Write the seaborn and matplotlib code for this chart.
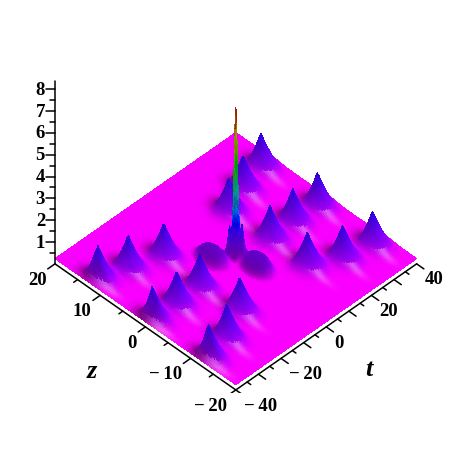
import numpy as np
import seaborn as sns
import matplotlib.pyplot as plt
from mpl_toolkits.mplot3d import proj3d

# Peak centres and heights are read off the picture. The sheet between them
# is only an approximation of the original surface, built from these lists.
peak_t = [-35.8, -25.8, -14.1, -36.8, -26.6, -16, -36.4, -26, -14.5,
          35.9, 24.9, 14.7, 35.9, 25.4, 14.9, 35.9, 24.8, 14.8]
peak_z = [12.6, 10.9, 8.9, 0.1, -0.2, 0, -12.2, -11, -8.1,
          12.4, 10.9, 8.9, -0.1, 0.1, -0.1, -12.3, -11.2, -8.4]
peak_h = [1.4] * 18
center_t = [0, -1.4, 1.4]
center_z = [0, 0.7, -0.7]
center_h = [6.8, 1.4, 1.4]
ridge_t = [-5.6, 1.7]
ridge_z = [2.5, -4]
ridge_h = [0.55, 0.6]
floor_h = 0.24
z_top = 8.4

z_ticks = [20, 10, 0, -10, -20]
t_ticks = [40, 20, 0, -20, -40]
h_ticks = [1, 2, 3, 4, 5, 6, 7, 8]

# height above the sheet -> place in the hue table
hue_height = [0, 0.35, 1.4, 4.3, 6.9]
hue_place = [0, 0.08, 0.165, 0.6, 1]

sns.set_theme(style='white')
plt.rcParams['font.family'] = ['Liberation Serif', 'DejaVu Serif']
hue_table = np.array(sns.hls_palette(300, h=0, l=0.5, s=1)[:250][::-1])

t = np.unique(np.concatenate([np.linspace(-40, 40, 231), np.linspace(-3, 3, 61)]))
z = np.unique(np.concatenate([np.linspace(-20, 20, 201), np.linspace(-2, 2, 61)]))
T, Z = np.meshgrid(t, z)

H = np.full(T.shape, floor_h)
glow = np.zeros(T.shape)
shadow = np.zeros(T.shape)
for p_t, p_z, p_h in zip(peak_t, peak_z, peak_h):
    # skirts run further towards the viewer than away from it
    w_t = np.where(T > p_t, 2.5, 4.0)
    w_z = np.where(Z > p_z, 1.25, 2.7)
    rho = np.hypot((T - p_t) / w_t, (Z - p_z) / w_z)
    H += p_h * np.exp(-rho - 0.25 * rho ** 3)
    glow += np.exp(-((T - p_t + 2.6) / 1.3) ** 2 - ((Z - p_z + 3.4) / 2.6) ** 2)
    shadow += np.exp(-((T - p_t + 1.4) / 3) ** 2 - ((Z - p_z - 1.3) / 1.8) ** 2)
for p_t, p_z, p_h in zip(center_t[1:], center_z[1:], center_h[1:]):
    H += p_h * np.exp(-np.hypot((T - p_t) / 0.8, (Z - p_z) / 0.4) ** 1.3)
H += center_h[0] / np.cosh(np.hypot((T - center_t[0]) / 0.75, (Z - center_z[0]) / 0.35)) ** 2
for p_t, p_z, p_h in zip(ridge_t, ridge_z, ridge_h):
    bump = np.exp(-(((T - p_t) / 3.6) ** 2 + ((Z - p_z) / 2.8) ** 2) ** 2)
    H += p_h * bump
    shadow += 0.9 * bump

# the front edge stays straight in the picture
H = floor_h + (H - floor_h) * np.clip((T + 40) / 3, 0, 1)

dH_dt = np.gradient(H, t, axis=1)
frac = np.interp(H - floor_h, hue_height, hue_place)
colors = hue_table[(frac * 249).astype(int)]
dark = np.clip(dH_dt * 1.2 + 0.45 * shadow, 0, 0.5) * np.clip(1 - frac / 0.165 * 0.75, 0.25, 1)
dark = np.where(frac > 0.3, 0.4, dark)[..., None]
white = np.clip(glow * 0.35, 0, 0.45)[..., None] * (frac[..., None] < 0.05)
colors = colors * (1 - dark)
colors = colors + (1 - colors) * white

fig = plt.figure(figsize=(4.58, 4.52), dpi=100)
size = 430
ax = fig.add_axes([(230 - size / 2) / 458, (452 - 179 - size / 2) / 452, size / 458, size / 452],
                  projection='3d')
ax.set_proj_type('ortho')
ax.view_init(elev=44.2, azim=-135)
ax.set_box_aspect((1, 1, 1), zoom=1)
ax.set_xlim(-40, 40)
ax.set_ylim(-20, 20)
ax.set_zlim(0, z_top)
ax.set_xticks([])
ax.set_yticks([])
ax.set_zticks([])
ax.set_axis_off()
ax.computed_zorder = False
ax.patch.set_alpha(0)

ax.plot_surface(T, Z, H, facecolors=colors, rstride=1, cstride=1, shade=False,
                linewidth=0, antialiased=False, zorder=1)

line = dict(color='black', lw=1.1, zorder=3)
label = dict(fontsize=13.5, fontweight='bold', color='black', va='center', zorder=4)
title = dict(fontsize=19, fontstyle='italic', fontweight='bold', color='black',
             ha='center', va='center', zorder=4)


def put_text(x, y, h, text, **kwargs):
    # place a label at a 3d spot using plain 2d text
    px, py, _ = proj3d.proj_transform(x, y, h, ax.get_proj())
    ax.text2D(px, py, text, transform=ax.transData, **kwargs)


ax.plot([-40, -40], [20, -20], [0, 0], **line)
ax.plot([-40, 40], [-20, -20], [0, 0], **line)
ax.plot([-40, -40], [20, 20], [0, z_top], **line)

for v in np.arange(-20, 21, 5):
    d = 3.2 if v % 10 == 0 else 1.7
    ax.plot([-40, -40 - d], [v, v], [0, 0], **line)
for v in np.arange(-40, 41, 5):
    d = 1.6 if v % 10 == 0 else 0.8
    ax.plot([v, v], [-20, -20 - d], [0, 0], **line)
for v in np.arange(0.5, 8.1, 0.5):
    d = 2 if v % 1 == 0 else 1.1
    ax.plot([-40, -40 - d], [20, 20 + d / 2], [v, v], **line)

for v in z_ticks:
    put_text(-46.7, v - 1.46, 0, str(v).replace('-', '\u2212\u2009'), ha='right', **label)
for v in t_ticks:
    put_text(v - 3, -23.3, 0, str(v).replace('-', '\u2212\u2009'), ha='left', **label)
for v in h_ticks:
    put_text(-42.2, 21.1, v, str(v), ha='right', **label)

put_text(-65.7, -1.1, 0, 'z', **title)
put_text(-3.9, -31.3, 0, 't', **title)

fig.savefig('out.png', dpi=100)
